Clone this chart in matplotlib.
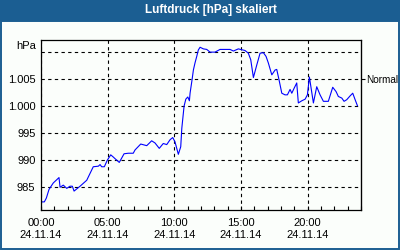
import matplotlib
matplotlib.use('Agg')
import matplotlib.pyplot as plt
from matplotlib.patches import Rectangle

plt.rcParams['font.family'] = ['Liberation Sans', 'DejaVu Sans']

# Stunden seit 00:00 am 24.11.14
hours = [0.00, 0.25, 0.40, 0.60, 0.92, 1.18, 1.35, 1.43, 1.67, 1.93,
         2.18, 2.35, 2.48, 2.93, 3.43, 3.92, 4.30, 4.43, 4.55, 4.75,
         4.97, 5.23, 5.42, 5.55, 5.87, 6.23, 6.55, 6.92, 7.05, 7.48,
         7.93, 8.30, 8.55, 8.87, 9.17, 9.43, 9.68, 9.88, 10.05, 10.30,
         10.48, 10.56, 10.73, 10.86, 11.01, 11.13, 11.18, 11.33, 11.43, 11.55,
         11.68, 11.80, 11.93, 12.18, 12.43, 12.68, 13.05, 13.43, 13.93, 14.18,
         14.43, 14.80, 15.30, 15.55, 15.73, 15.93, 16.18, 16.43, 16.68, 16.88,
         17.05, 17.31, 17.56, 17.68, 17.85, 18.06, 18.30, 18.48, 18.68, 18.81,
         18.98, 19.18, 19.30, 19.56, 19.81, 19.98, 20.13, 20.26, 20.43, 20.68,
         20.93, 21.18, 21.55, 21.88, 22.13, 22.30, 22.56, 22.73, 22.93, 23.18,
         23.38, 23.56, 23.73]
pressure = [982.3, 982.3, 983.0, 984.6, 985.8, 986.4, 986.8, 985.0, 985.4, 984.8,
            985.2, 985.2, 984.3, 985.2, 986.3, 988.8, 988.9, 989.2, 988.8, 988.8,
            990.0, 991.0, 990.6, 990.3, 989.6, 991.2, 991.3, 991.3, 991.9, 993.0,
            992.7, 993.6, 993.2, 992.2, 993.1, 992.9, 993.8, 994.2, 993.4, 991.1,
            992.5, 995.9, 1000.0, 1001.3, 1001.7, 1001.0, 1002.4, 1004.9, 1006.7, 1008.0,
            1009.2, 1010.4, 1010.9, 1010.6, 1010.5, 1010.0, 1010.0, 1010.5, 1010.5, 1010.5,
            1010.2, 1010.6, 1010.3, 1009.8, 1008.6, 1005.3, 1007.6, 1009.8, 1009.9, 1009.2,
            1008.0, 1005.8, 1006.7, 1006.8, 1004.9, 1002.4, 1002.1, 1002.1, 1003.1, 1002.4,
            1003.3, 1004.3, 1000.6, 1001.0, 1001.3, 1002.1, 1005.4, 1003.3, 1000.6, 1003.6,
            1002.1, 1000.9, 1000.9, 1003.5, 1002.7, 1001.8, 1001.5, 1000.9, 1001.2, 1001.9,
            1002.4, 1001.2, 1000.1]

x_ticks = [0, 5, 10, 15, 20]
x_labels = ['00:00\n24.11.14', '05:00\n24.11.14', '10:00\n24.11.14',
            '15:00\n24.11.14', '20:00\n24.11.14']
y_ticks = [985, 990, 995, 1000, 1005, 1010]
y_labels = ['985', '990', '995', '1.000', '1.005', '']

blau = '#1b5e92'

fig = plt.figure(figsize=(4, 2.5), dpi=100, facecolor='#fbfefb')

# Titelleiste und Rahmen
fig.patches.append(Rectangle((0, 1 - 20.5 / 250), 1, 20.5 / 250, transform=fig.transFigure,
                             facecolor=blau, edgecolor='none', zorder=0))
fig.patches.append(Rectangle((0.5 / 400, 1.5 / 250), 398 / 400, 1 - 22 / 250, transform=fig.transFigure,
                             facecolor='none', edgecolor=blau, linewidth=1.4, zorder=0))
fig.text(211 / 400, 1 - 10.5 / 250, 'Luftdruck [hPa] skaliert', color='white',
         fontsize=8.5, fontweight='bold', ha='center', va='center')

ax = fig.add_axes([41 / 400, 40 / 250, 320 / 400, 169.5 / 250])
ax.set_facecolor('#fbfefb')
ax.plot(hours, pressure, color='#0000ff', linewidth=0.8)

ax.set_xlim(0, 24)
ax.set_ylim(980.8, 1012.15)

ax.set_xticks(x_ticks, x_labels)
ax.set_xticks(range(0, 25), minor=True)
ax.set_yticks(y_ticks, y_labels)
ax.grid(True, color='black', linestyle=(0, (3, 3)), linewidth=0.8)

ax.tick_params(axis='x', which='both', direction='in', length=3, width=0.8,
               pad=6, labelsize=8)
ax.tick_params(axis='y', length=0, pad=4, labelsize=8)
for s in ax.spines.values():
    s.set_linewidth(0.9)

ax.text(-0.015, 1011.1, 'hPa', transform=ax.get_yaxis_transform(),
        ha='right', va='center', fontsize=8)

rechts = ax.secondary_yaxis('right')
rechts.set_yticks([1005], ['Normal'])
rechts.tick_params(length=3, width=0.8, pad=0.5, labelsize=7.2)

fig.savefig('out.png', dpi=100, facecolor=fig.get_facecolor())
